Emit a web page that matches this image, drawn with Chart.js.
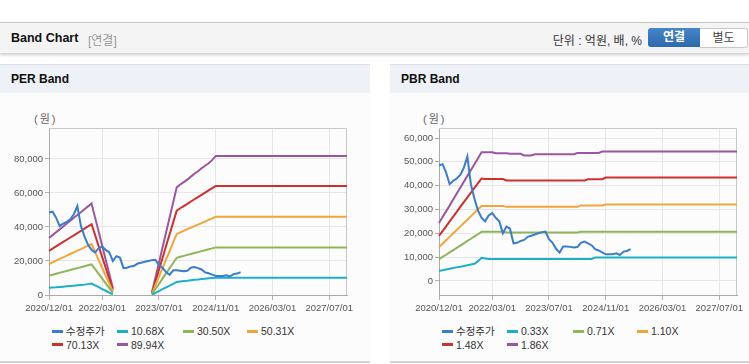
<!DOCTYPE html>
<html>
<head>
<meta charset="utf-8">
<script src="https://cdn.jsdelivr.net/npm/chart.js@4.4.1/dist/chart.umd.min.js"></script>
<style>
body { margin: 0; width: 749px; height: 364px; overflow: hidden; background: #fff;
  font-family: "Liberation Sans", Arial, "Noto Sans CJK KR", sans-serif; position: relative; }
#top { position: absolute; left: 0; top: 22px; width: 749px; height: 30px; background: #f4f4f4;
  border-top: 1px solid #c4c4c4; border-bottom: 1px solid #d6d6d6; box-shadow: 0 2px 2px rgba(0,0,0,0.12); }
#top .ttl { position: absolute; left: 11px; top: 8px; font-size: 12.5px; font-weight: bold; color: #111; }
#top .sub { position: absolute; left: 88px; top: 8px; font-size: 12px; color: #999; }
#top .unit { position: absolute; right: 107px; top: 8px; font-size: 12px; color: #333; }
#top .btn { position: absolute; top: 5px; height: 19px; line-height: 19px; text-align: center; font-size: 12px; }
#top .on { left: 648px; width: 52px; background: linear-gradient(#4585c8, #2f69ad); color: #fff; font-weight: bold; border-radius: 3px 0 0 3px; }
#top .off { left: 700px; width: 47px; background: #fff; color: #444; border: 1px solid #c8c8c8; border-left: none; height: 18px; line-height: 18px; border-radius: 0 3px 3px 0; }
.panel { position: absolute; top: 64px; height: 297px; background: #fcfcfc; border-bottom: 2px solid #d2d2d2; }
.panel .hd { height: 28px; background: #eef1f6; border-top: 1px solid #dde1e7; font-size: 12px; font-weight: bold; color: #111; line-height: 28px; padding-left: 11px; }
.panel canvas { position: absolute; left: 0; top: 36px; }
.unitlbl { position: absolute; top: 46px; font-size: 11px; color: #666; letter-spacing: 2px; }
.legend { position: absolute; left: 0; top: 261px; width: 100%; }
.legend .it { position: absolute; font-size: 10.5px; color: #333; white-space: nowrap; height: 13px; line-height: 13px; }
.legend .sw { display: inline-block; width: 11px; height: 3px; vertical-align: middle; margin-right: 3px; margin-top: -2px; }
</style>
</head>
<body>
<div id="top">
  <span class="ttl">Band Chart</span><span class="sub">[연결]</span>
  <span class="unit">단위 : 억원, 배, %</span>
  <span class="btn on">연결</span><span class="btn off">별도</span>
</div>
<div class="panel" style="left:0;width:370px">
  <div class="hd">PER Band</div>
  <span class="unitlbl" style="left:34px">(원)</span>
  <canvas id="perChart" width="370" height="220"></canvas>
  <div class="legend" id="perLegend"></div>
</div>
<div class="panel" style="left:390px;width:359px">
  <div class="hd">PBR Band</div>
  <span class="unitlbl" style="left:33px">(원)</span>
  <canvas id="pbrChart" width="359" height="220"></canvas>
  <div class="legend" id="pbrLegend"></div>
</div>
<script>
// monthly categories 2020/12 ~ 2027/12
var months = []
for (var i = 0; i < 85; i++) {
  var m = (11 + i) % 12 + 1
  var yr = 2020 + Math.floor((11 + i) / 12)
  months.push(yr + '/' + (m < 10 ? '0' + m : m) + '/01')
}
var xTickLabels = ['2020/12/01', '2022/03/01', '2023/07/01', '2024/11/01', '2026/03/01', '2027/07/01']

var colors = ['#3a7dce', '#1cb0c8', '#8db55a', '#f2a53a', '#d0302c', '#9a57a0']

// 수정주가
var price = [48500, 49000, 45500, 40600, 42000, 43000, 44500, 47500, 52300, 40500,
  34500, 29500, 26500, 25000, 27500, 28500, 26500, 25000, 20000, 22800,
  22000, 15800, 16000, 16800, 17200, 18500, 19000, 19500, 20000, 20500,
  20700, 17500, 16000, 13500, 11900, 14500, 14500, 14300, 14000, 14200,
  16000, 16500, 15800, 15000, 13300, 12800, 12000, 11200, 11200, 11200,
  11600, 10900, 12300, 12600, 13400]

// PER band
var perLabels = ['10.68X', '30.50X', '50.31X', '70.13X', '89.94X']
var per1068 = [4300, 4400, 4500, 4700, 4900, 5100, 5300, 5500, 5700, 5900, 6100, 6400, 6700,
  5600, 4600, 3500, 2500, 1400, 400,
  null, null, null, null, null, null, null, null, null, null,
  100, 1200, 2300, 3400, 4500, 5500, 6600, 7700,
  8000, 8200, 8400, 8700, 8900, 9100, 9400, 9600, 9800, 10000, 10200,
  10200, 10200, 10200, 10200, 10200, 10200, 10200, 10200, 10200, 10200,
  10200, 10200, 10200, 10200, 10200, 10200, 10200, 10200, 10200, 10200,
  10200, 10200, 10200, 10200, 10200, 10200, 10200, 10200, 10200, 10200,
  10200, 10200, 10200, 10200, 10200, 10200, 10200]
var per3050 = [11400, 11950, 12500, 13050, 13600, 14150, 14700, 15250, 15800, 16350, 16900, 17450, 18000,
  15200, 12400, 9600, 6800, 4000, 1200,
  null, null, null, null, null, null, null, null, null, null,
  400, 3500, 6500, 9600, 12700, 15800, 18800, 21900,
  22500, 23000, 23600, 24100, 24700, 25200, 25800, 26300, 26900, 27400, 28000,
  28000, 28000, 28000, 28000, 28000, 28000, 28000, 28000, 28000, 28000,
  28000, 28000, 28000, 28000, 28000, 28000, 28000, 28000, 28000, 28000,
  28000, 28000, 28000, 28000, 28000, 28000, 28000, 28000, 28000, 28000,
  28000, 28000, 28000, 28000, 28000, 28000, 28000]
var per5031 = [18200, 19200, 20200, 21200, 22100, 23100, 24100, 25100, 26100, 27000, 28000, 29000, 30000,
  25300, 20700, 16000, 11300, 6700, 2000,
  null, null, null, null, null, null, null, null, null, null,
  700, 5700, 10800, 15800, 20800, 25800, 30900, 35900,
  36800, 37700, 38700, 39600, 40500, 41400, 42300, 43200, 44200, 45100, 46000,
  46000, 46000, 46000, 46000, 46000, 46000, 46000, 46000, 46000, 46000,
  46000, 46000, 46000, 46000, 46000, 46000, 46000, 46000, 46000, 46000,
  46000, 46000, 46000, 46000, 46000, 46000, 46000, 46000, 46000, 46000,
  46000, 46000, 46000, 46000, 46000, 46000, 46000]
var per7013 = [26000, 27300, 28600, 29900, 31200, 32500, 33800, 35100, 36400, 37700, 39000, 40300, 41600,
  35200, 28700, 22300, 15900, 9500, 3000,
  null, null, null, null, null, null, null, null, null, null,
  1000, 7900, 14900, 21800, 28800, 35700, 42700, 49600,
  51000, 52300, 53600, 55000, 56300, 57600, 58900, 60200, 61500, 62800, 64100,
  64100, 64100, 64100, 64100, 64100, 64100, 64100, 64100, 64100, 64100,
  64100, 64100, 64100, 64100, 64100, 64100, 64100, 64100, 64100, 64100,
  64100, 64100, 64100, 64100, 64100, 64100, 64100, 64100, 64100, 64100,
  64100, 64100, 64100, 64100, 64100, 64100, 64100]
var per8994 = [33500, 35200, 36900, 38600, 40300, 42000, 43700, 45400, 47000, 48700, 50400, 52100, 53800,
  45500, 37200, 28900, 20600, 12300, 4000,
  null, null, null, null, null, null, null, null, null, null,
  1300, 10200, 19000, 27900, 36700, 45600, 54400, 63300,
  65000, 66400, 67800, 69600, 71300, 72800, 74500, 76000, 77500, 79300, 81800,
  81800, 81800, 81800, 81800, 81800, 81800, 81800, 81800, 81800, 81800,
  81800, 81800, 81800, 81800, 81800, 81800, 81800, 81800, 81800, 81800,
  81800, 81800, 81800, 81800, 81800, 81800, 81800, 81800, 81800, 81800,
  81800, 81800, 81800, 81800, 81800, 81800, 81800]
var perYTicks = [0, 20000, 40000, 60000, 80000]

// PBR band
var pbrLabels = ['0.33X', '0.71X', '1.10X', '1.48X', '1.86X']
var pbr033 = [4200, 4500, 4800, 5100, 5400, 5700, 6000, 6300, 6600, 6900, 7200, 8300, 9700,
  9400,
  9250, 9250, 9250, 9250, 9250, 9250, 9250, 9250, 9250, 9250,
  9250, 9250, 9250, 9250, 9250, 9250, 9250, 9250, 9250, 9250,
  9250, 9250, 9250, 9250, 9250, 9250, 9250, 9250, 9250, 9250,
  9800, 9800, 9800, 9800, 9800, 9800, 9800, 9800, 9800, 9800,
  9800, 9800, 9800, 9800, 9800, 9800, 9800, 9800, 9800, 9800,
  9800, 9800, 9800, 9800, 9800, 9800, 9800, 9800, 9800, 9800,
  9800, 9800, 9800, 9800, 9800, 9800, 9800, 9800, 9800, 9800,
  9800]
var pbr071 = [9100, 10100, 11000, 12000, 12900, 13900, 14800, 15800, 16800, 17700, 18700, 19600, 20600,
  20600, 20600, 20600, 20600, 20600, 20600,
  20300, 20300, 20300, 20300, 20300, 20300, 20300, 20300, 20300, 20300,
  20300, 20300, 20300, 20300, 20300, 20300, 20300, 20300, 20300, 20300,
  20300,
  20600, 20600, 20600, 20600, 20600, 20600, 20600, 20600, 20600, 20600,
  20600, 20600, 20600, 20600, 20600, 20600, 20600, 20600, 20600, 20600,
  20600, 20600, 20600, 20600, 20600, 20600, 20600, 20600, 20600, 20600,
  20600, 20600, 20600, 20600, 20600, 20600, 20600, 20600, 20600, 20600,
  20600, 20600, 20600, 20600, 20600]
var pbr110 = [14200, 15600, 17100, 18500, 20000, 21400, 22900, 24300, 25700, 27200, 28600, 30100, 31500,
  31500, 31500, 31500, 31500, 31500, 31500,
  31100, 31100, 31100, 31100, 31100, 31100, 31100, 31100, 31100, 31100,
  31100, 31100, 31100, 31100, 31100, 31100, 31100, 31100, 31100, 31100,
  31100,
  31700, 31700, 31700, 31700, 31700, 31700, 31700,
  32100, 32100, 32100, 32100, 32100, 32100, 32100, 32100, 32100, 32100,
  32100, 32100, 32100, 32100, 32100, 32100, 32100, 32100, 32100, 32100,
  32100, 32100, 32100, 32100, 32100, 32100, 32100, 32100, 32100, 32100,
  32100, 32100, 32100, 32100, 32100, 32100, 32100, 32100]
var pbr148 = [18900, 20900, 22900, 25000, 27000, 29000, 31100, 33100, 35100, 37100, 39100, 41100, 43000,
  42800, 42800, 42800, 42800, 42800, 42800,
  42200, 42200, 42200, 42200, 42200, 42200, 42200, 42200, 42200, 42200,
  42200, 42200, 42200, 42200, 42200, 42200, 42200, 42200, 42200, 42200,
  42200, 42200, 42200,
  42700, 42700, 42700, 42700, 42700,
  43400, 43400, 43400, 43400, 43400, 43400, 43400, 43400, 43400, 43400,
  43400, 43400, 43400, 43400, 43400, 43400, 43400, 43400, 43400, 43400,
  43400, 43400, 43400, 43400, 43400, 43400, 43400, 43400, 43400, 43400,
  43400, 43400, 43400, 43400, 43400, 43400, 43400, 43400]
var pbr186 = [24300, 26800, 29200, 31700, 34200, 36700, 39100, 41600, 44100, 46600, 49000, 51500, 54000,
  54000, 54000, 54000,
  53600, 53600, 53600, 53600,
  53400, 53400, 53400, 53400,
  52700, 52700, 52700,
  53200, 53200, 53200, 53200, 53200, 53200, 53200, 53200, 53200, 53200, 53200, 53200,
  53700, 53700, 53700, 53700, 53700, 53700, 53700,
  54300, 54300, 54300, 54300, 54300, 54300, 54300, 54300, 54300, 54300,
  54300, 54300, 54300, 54300, 54300, 54300, 54300, 54300, 54300, 54300,
  54300, 54300, 54300, 54300, 54300, 54300, 54300, 54300, 54300, 54300,
  54300, 54300, 54300, 54300, 54300, 54300, 54300, 54300, 54300]
var pbrYTicks = [0, 10000, 20000, 30000, 40000, 50000, 60000]

var tickFont = { family: "'Liberation Sans', Arial, sans-serif", size: 9.5 }

var framePlugin = {
  id: 'frame',
  beforeDatasetsDraw: function(chart) {
    var a = chart.chartArea, c = chart.ctx
    c.save()
    c.strokeStyle = '#c8c8c8'
    c.lineWidth = 1
    c.beginPath()
    c.moveTo(a.left, Math.round(a.top) + 0.5)
    c.lineTo(Math.round(a.right) - 0.5, Math.round(a.top) + 0.5)
    c.lineTo(Math.round(a.right) - 0.5, a.bottom)
    c.stroke()
    c.restore()
  }
}

function makeChart(canvasId, legendId, bandLabels, bandSeries, yMin, yMax, yTicks, padRight) {
  var datasets = [{ label: '수정주가', data: price, borderColor: colors[0] }]
  for (var k = 0; k < bandLabels.length; k++) {
    datasets.push({ label: bandLabels[k], data: bandSeries[k], borderColor: colors[k + 1] })
  }
  datasets.forEach(function(d) { d.borderWidth = 2; d.pointRadius = 0; d.tension = 0; d.fill = false; d.spanGaps = false })

  var chart = new Chart(document.getElementById(canvasId), {
    type: 'line',
    data: { labels: months, datasets: datasets },
    options: {
      responsive: false,
      animation: false,
      layout: { padding: { left: 0, right: padRight, top: 28, bottom: 0 } },
      plugins: { legend: { display: false }, tooltip: { enabled: false } },
      scales: {
        x: {
          offset: false,
          grid: { color: '#e6e6e6', tickColor: '#b0b0b0', tickLength: 5 },
          border: { color: '#aaaaaa' },
          ticks: { autoSkip: false, maxRotation: 0, padding: 3, color: '#555', font: tickFont },
          afterBuildTicks: function(s) {
            s.ticks = s.ticks.filter(function(t) { return xTickLabels.indexOf(months[t.value]) >= 0 })
          },
          afterFit: function(s) { s.height = 25 }
        },
        y: {
          min: yMin,
          max: yMax,
          grid: { color: '#e6e6e6', tickColor: '#b0b0b0', tickLength: 4 },
          border: { color: '#aaaaaa' },
          ticks: { padding: 2, color: '#555', font: tickFont,
            callback: function(v) { return v.toLocaleString('en-US') } },
          afterBuildTicks: function(s) {
            s.ticks = yTicks.map(function(v) { return { value: v } })
          },
          afterFit: function(s) { s.width = 49 }
        }
      }
    },
    plugins: [framePlugin]
  })

  // legend in a fixed 4-column grid
  var cols = [52, 117, 183, 247]
  var lg = document.getElementById(legendId)
  chart.data.datasets.forEach(function(d, idx) {
    var it = document.createElement('span')
    it.className = 'it'
    it.style.left = cols[idx % 4] + 'px'
    it.style.top = (Math.floor(idx / 4) * 13.5) + 'px'
    it.innerHTML = '<span class="sw" style="background:' + d.borderColor + '"></span>' + d.label
    lg.appendChild(it)
  })
  return chart
}

makeChart('perChart', 'perLegend', perLabels, [per1068, per3050, per5031, per7013, per8994], 0, 98200, perYTicks, 23)
makeChart('pbrChart', 'pbrLegend', pbrLabels, [pbr033, pbr071, pbr110, pbr148, pbr186], -5900, 64200, pbrYTicks, 12)
</script>
</body>
</html>
